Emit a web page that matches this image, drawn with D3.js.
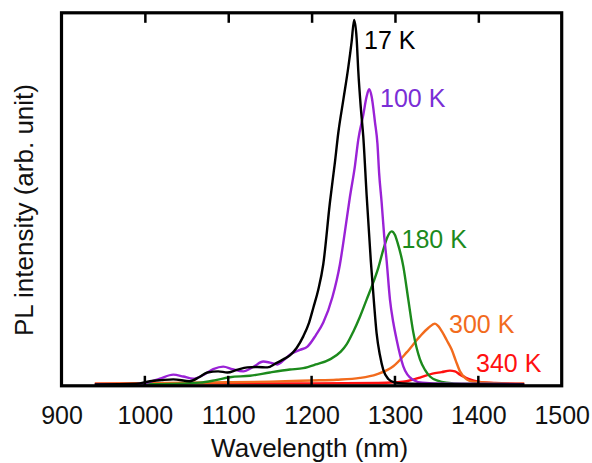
<!DOCTYPE html>
<html><head><meta charset="utf-8">
<script src="https://cdn.jsdelivr.net/npm/d3@7"></script>
<style>body{margin:0;background:#fff}svg{display:block;font-family:"Liberation Sans",Arial,sans-serif}</style>
</head><body><svg id="c" width="592" height="463"></svg>
<script>
const xTicks = [900, 1000, 1100, 1200, 1300, 1400, 1500];
const seriesNames = ["17 K", "100 K", "180 K", "300 K", "340 K"];
const seriesColors = ["#000000", "#9a22d6", "#1c8a1c", "#f26b1d", "#ff1010"];
const labelColors = ["#000000", "#7a2ed6", "#1c8a1c", "#f26b1d", "#ff1010"];

const k17 = [[940,0.0],[990,0.002],[1006,0.009],[1020,0.012],[1034,0.014],[1054,0.009],[1065,0.02],[1075,0.033],[1088,0.036],[1099,0.033],[1110,0.04],[1123,0.047],[1135,0.048],[1147,0.047],[1157,0.058],[1166,0.069],[1174,0.08],[1182,0.1],[1190,0.132],[1197,0.17],[1202,0.21],[1208,0.26],[1214,0.33],[1222,0.5],[1228,0.61],[1232,0.69],[1238,0.78],[1244,0.87],[1248,0.94],[1251,1.0],[1254,0.95],[1256,0.86],[1259,0.76],[1262,0.68],[1266,0.52],[1271,0.34],[1275,0.22],[1278,0.14],[1282,0.08],[1286,0.04],[1292,0.015],[1300,0.005],[1320,0.002],[1360,0.001],[1455,0.0]];
const k100 = [[940,0.0],[989,0.001],[1003,0.005],[1018,0.016],[1034,0.027],[1046,0.022],[1058,0.016],[1070,0.026],[1082,0.042],[1094,0.049],[1105,0.042],[1118,0.036],[1130,0.048],[1142,0.063],[1150,0.06],[1159,0.055],[1168,0.07],[1174,0.082],[1186,0.095],[1195,0.104],[1205,0.135],[1214,0.17],[1225,0.24],[1234,0.33],[1240,0.42],[1246,0.515],[1252,0.6],[1256,0.672],[1262,0.74],[1266,0.79],[1269,0.81],[1272,0.79],[1276,0.72],[1279,0.66],[1281,0.58],[1284,0.5],[1287,0.41],[1290,0.34],[1294,0.233],[1298,0.17],[1302,0.123],[1310,0.05],[1321,0.014],[1333,0.005],[1360,0.002],[1455,0.001]];
const k180 = [[940,0.0],[1020,0.001],[1066,0.005],[1085,0.012],[1102,0.02],[1126,0.024],[1150,0.033],[1174,0.041],[1190,0.045],[1205,0.055],[1222,0.069],[1235,0.09],[1242,0.11],[1250,0.145],[1258,0.186],[1266,0.233],[1274,0.28],[1280,0.32],[1286,0.37],[1291,0.405],[1296,0.42],[1300,0.41],[1303,0.39],[1310,0.324],[1316,0.233],[1322,0.143],[1330,0.069],[1336,0.04],[1342,0.022],[1352,0.01],[1362,0.005],[1380,0.002],[1455,0.001]];
const k300 = [[940,0.002],[1000,0.003],[1050,0.005],[1100,0.006],[1150,0.008],[1200,0.011],[1230,0.013],[1258,0.018],[1278,0.028],[1298,0.05],[1314,0.088],[1330,0.132],[1340,0.155],[1348,0.167],[1352,0.16],[1357,0.143],[1362,0.122],[1368,0.096],[1373,0.065],[1378,0.036],[1386,0.014],[1393,0.008],[1410,0.005],[1430,0.003],[1455,0.002]];
const k340 = [[940,0.002],[1000,0.003],[1100,0.003],[1200,0.003],[1280,0.004],[1300,0.006],[1314,0.009],[1330,0.019],[1345,0.03],[1356,0.034],[1366,0.038],[1372,0.036],[1378,0.027],[1384,0.02],[1390,0.014],[1400,0.008],[1420,0.004],[1455,0.002]];
const allSeries = [k17, k100, k180, k300, k340];

const svg = d3.select("#c");
const L = 61.5, R = 561.7, T = 12.8, B = 385.8;
const x = d3.scaleLinear().domain([900, 1500]).range([L, R]);
const y = d3.scaleLinear().domain([0, 1]).range([384.5, 20]);

svg.append("clipPath").attr("id","clip").append("rect")
  .attr("x", L).attr("y", T).attr("width", R-L).attr("height", B-T);

const line = d3.line().x(d => x(d[0])).y(d => y(d[1])).curve(d3.curveMonotoneX);
const g = svg.append("g").attr("clip-path","url(#clip)");
[4,3,2,1,0].forEach(i => {
  g.append("path").datum(allSeries[i]).attr("d", line)
    .attr("fill","none").attr("stroke", seriesColors[i]).attr("stroke-width", 2.4)
    .attr("stroke-linejoin","round");
});

const inner = xTicks.filter(t => t > 900 && t < 1500);
const xb = svg.append("g").attr("transform", `translate(0,${B})`)
  .call(d3.axisBottom(x).tickValues(xTicks).tickSize(0).tickPadding(0).tickFormat(d3.format("d")));
xb.select(".domain").remove();
xb.selectAll("text").attr("y", 424 - B).attr("dy", null).attr("font-size", 25).attr("fill","#111")
  .attr("font-family", '"Liberation Sans",Arial,sans-serif');
svg.append("g").selectAll("line.bt").data(inner).join("line")
  .attr("x1", d => x(d)).attr("x2", d => x(d)).attr("y1", B).attr("y2", B - 10)
  .attr("stroke","#000").attr("stroke-width", 2.5);
svg.append("g").call(d3.axisTop(x).tickValues(inner).tickSize(-10).tickFormat(""))
  .attr("transform", `translate(0,${T})`)
  .call(s => { s.select(".domain").remove(); s.selectAll("line").attr("stroke","#000").attr("stroke-width",2.5); });

svg.append("rect").attr("x", L).attr("y", T).attr("width", R-L).attr("height", B-T)
  .attr("fill","none").attr("stroke","#000").attr("stroke-width", 3.2);

svg.append("text").attr("x", (L+R)/2 - 2).attr("y", 457).attr("text-anchor","middle")
  .attr("font-size", 26).attr("fill","#111").text("Wavelength (nm)");
svg.append("text").attr("transform", "translate(33,210) rotate(-90)").attr("text-anchor","middle")
  .attr("font-size", 26).attr("fill","#111").text("PL intensity (arb. unit)");

const labelPos = [[364,49],[380,107],[401.5,248],[449,333],[476,372]];
seriesNames.forEach((n,i) => {
  svg.append("text").attr("x", labelPos[i][0]).attr("y", labelPos[i][1])
    .attr("font-size", 25).attr("fill", labelColors[i]).text(n);
});
</script></body></html>
